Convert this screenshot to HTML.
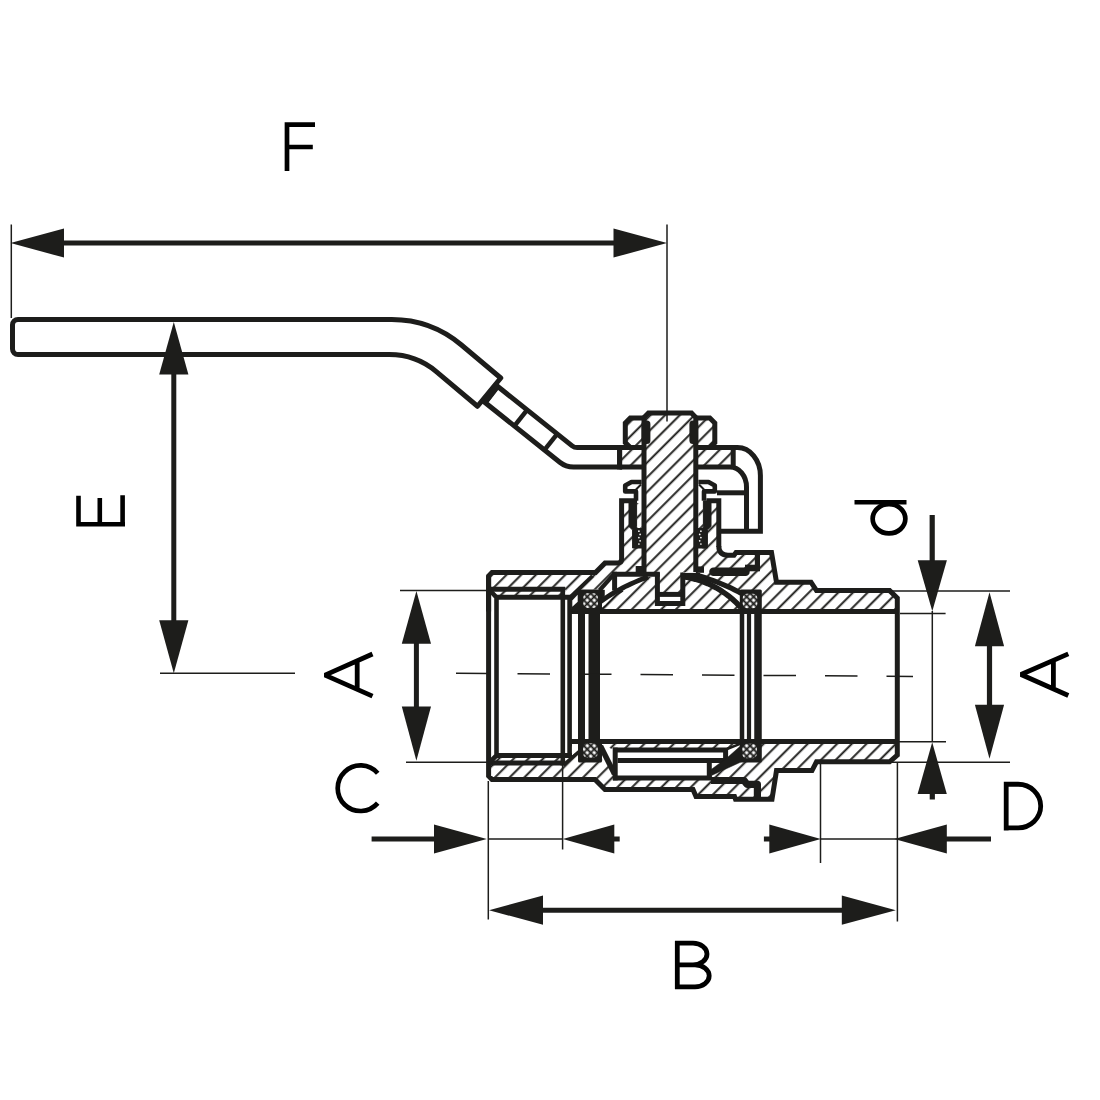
<!DOCTYPE html>
<html><head><meta charset="utf-8"><title>valve</title>
<style>html,body{margin:0;padding:0;background:#fff;}svg{display:block}</style></head>
<body>
<svg width="1100" height="1100" viewBox="0 0 1100 1100">
<defs>
<pattern id="hB" width="10.39" height="10.39" patternUnits="userSpaceOnUse" patternTransform="translate(494.4 587) rotate(-45) translate(0 -5)"><line x1="0" y1="5" x2="10.39" y2="5" stroke="#1d1d1b" stroke-width="1.95"/></pattern>
<pattern id="hC" width="10.39" height="10.39" patternUnits="userSpaceOnUse" patternTransform="translate(763.2 608.9) rotate(-45) translate(0 -5)"><line x1="0" y1="5" x2="10.39" y2="5" stroke="#1d1d1b" stroke-width="1.95"/></pattern>
<pattern id="hS" width="10.39" height="10.39" patternUnits="userSpaceOnUse" patternTransform="translate(647 448) rotate(-45) translate(0 -5)"><line x1="0" y1="5" x2="10.39" y2="5" stroke="#1d1d1b" stroke-width="1.95"/></pattern>
<pattern id="hL" width="10.39" height="10.39" patternUnits="userSpaceOnUse" patternTransform="translate(603.2 608.7) rotate(-45) translate(0 -5)"><line x1="0" y1="5" x2="10.39" y2="5" stroke="#1d1d1b" stroke-width="1.95"/></pattern>
<pattern id="x" width="4.9" height="4.9" patternUnits="userSpaceOnUse" patternTransform="rotate(45 590.6 600.6)">
<rect width="4.9" height="4.9" fill="#fff"/>
<path d="M0 2.45H4.9M2.45 0V4.9" stroke="#1d1d1b" stroke-width="1.8"/>
</pattern>
</defs>
<rect width="1100" height="1100" fill="#fff"/>
<path d="M500.75 378.0 L461.14 344.77 A108 108 0 0 0 391.72 319.5 H18 A5.5 5.5 0 0 0 12.5 325.0 V349.1 A5.5 5.5 0 0 0 18 354.6 H389.38 A73 73 0 0 1 436.30 371.68 L477.5 406.25 Z" fill="#fff"/>
<path d="M497.5 386.25 L572.16 445.85 A8 8 0 0 0 577.15 447.6 H619.6 V467.0 H573.50 A22 22 0 0 1 559.78 462.19 L485.0 402.5 Z" fill="#fff"/>
<path d="M488.60 576.00 L492.00 572.50 L595.50 572.50 L605.00 563.00 L621.60 563.00 L621.60 500.80 L629.50 500.80 L629.50 526.50 L633.00 531.00 L633.00 548.00 L644.00 548.00 L644.00 575.00 L615.20 575.00 L601.00 589.50 L581.50 589.50 L581.50 611.60 L569.60 611.60 L569.60 596.00 L565.00 589.30 L488.60 589.30 Z" fill="#fff"/>
<path d="M488.60 576.00 L492.00 572.50 L595.50 572.50 L605.00 563.00 L621.60 563.00 L621.60 500.80 L629.50 500.80 L629.50 526.50 L633.00 531.00 L633.00 548.00 L644.00 548.00 L644.00 575.00 L615.20 575.00 L601.00 589.50 L581.50 589.50 L581.50 611.60 L569.60 611.60 L569.60 596.00 L565.00 589.30 L488.60 589.30 Z" fill="url(#hB)"/>
<path d="M488.60 589.30 L562.80 589.30 L562.80 597.30 L496.50 597.30 Z" fill="#fff"/>
<path d="M488.60 589.30 L562.80 589.30 L562.80 597.30 L496.50 597.30 Z" fill="url(#hB)"/>
<path d="M695.80 548.00 L707.00 548.00 L707.00 531.00 L710.50 526.50 L710.50 500.80 L718.80 500.80 L718.80 548.00 L720.00 552.50 L726.00 555.20 L734.00 555.20 L736.00 552.50 L771.50 552.50 L776.50 582.20 L811.00 582.20 L816.50 590.60 L889.60 590.60 L897.30 598.00 L897.30 611.60 L742.00 611.60 L741.00 593.20 L737.81 591.49 L734.56 589.82 L731.23 588.20 L727.82 586.62 L724.35 585.09 L720.80 583.60 L717.18 582.16 L713.49 580.76 L709.73 579.40 L705.89 578.09 L701.98 576.82 L698.00 575.60 L695.80 575.00 Z" fill="#fff"/>
<path d="M695.80 548.00 L707.00 548.00 L707.00 531.00 L710.50 526.50 L710.50 500.80 L718.80 500.80 L718.80 548.00 L720.00 552.50 L726.00 555.20 L734.00 555.20 L736.00 552.50 L771.50 552.50 L776.50 582.20 L811.00 582.20 L816.50 590.60 L889.60 590.60 L897.30 598.00 L897.30 611.60 L742.00 611.60 L741.00 593.20 L737.81 591.49 L734.56 589.82 L731.23 588.20 L727.82 586.62 L724.35 585.09 L720.80 583.60 L717.18 582.16 L713.49 580.76 L709.73 579.40 L705.89 578.09 L701.98 576.82 L698.00 575.60 L695.80 575.00 Z" fill="url(#hC)"/>
<path d="M488.60 776.00 L492.00 779.40 L595.00 779.40 L605.00 789.50 L693.00 789.50 L696.00 796.50 L734.50 796.50 L735.50 799.30 L772.00 799.30 L776.50 770.60 L812.00 770.60 L816.50 761.80 L889.60 761.80 L897.30 755.00 L897.30 741.40 L760.00 741.40 L760.00 760.00 L741.00 757.00 L711.00 778.00 L615.20 778.00 L615.20 774.00 L601.00 758.00 L581.50 760.00 L581.50 741.40 L569.60 741.40 L569.60 757.00 L565.00 762.60 L488.60 762.60 Z" fill="#fff"/>
<path d="M488.60 776.00 L492.00 779.40 L595.00 779.40 L605.00 789.50 L693.00 789.50 L696.00 796.50 L734.50 796.50 L735.50 799.30 L772.00 799.30 L776.50 770.60 L812.00 770.60 L816.50 761.80 L889.60 761.80 L897.30 755.00 L897.30 741.40 L760.00 741.40 L760.00 760.00 L741.00 757.00 L711.00 778.00 L615.20 778.00 L615.20 774.00 L601.00 758.00 L581.50 760.00 L581.50 741.40 L569.60 741.40 L569.60 757.00 L565.00 762.60 L488.60 762.60 Z" fill="url(#hB)"/>
<path d="M488.60 763.00 L562.80 763.00 L562.80 755.50 L496.50 755.50 Z" fill="#fff"/>
<path d="M488.60 763.00 L562.80 763.00 L562.80 755.50 L496.50 755.50 Z" fill="url(#hB)"/>
<path d="M600.00 611.60 L600.00 602.00 L603.54 599.46 L607.17 597.00 L610.88 594.62 L614.67 592.33 L618.54 590.12 L622.50 588.00 L626.54 585.96 L630.67 584.00 L634.88 582.12 L639.17 580.33 L643.54 578.62 L648.00 577.00 L657.40 577.00 L657.40 603.50 L682.80 603.50 L682.80 577.17 L687.61 577.95 L692.42 578.98 L697.22 580.28 L702.03 581.86 L706.84 583.73 L711.65 585.92 L716.46 588.43 L721.27 591.32 L726.08 594.61 L730.88 598.37 L735.69 602.67 L740.50 607.62 L740.50 611.60 Z" fill="#fff"/>
<path d="M600.00 611.60 L600.00 602.00 L603.54 599.46 L607.17 597.00 L610.88 594.62 L614.67 592.33 L618.54 590.12 L622.50 588.00 L626.54 585.96 L630.67 584.00 L634.88 582.12 L639.17 580.33 L643.54 578.62 L648.00 577.00 L657.40 577.00 L657.40 603.50 L682.80 603.50 L682.80 577.17 L687.61 577.95 L692.42 578.98 L697.22 580.28 L702.03 581.86 L706.84 583.73 L711.65 585.92 L716.46 588.43 L721.27 591.32 L726.08 594.61 L730.88 598.37 L735.69 602.67 L740.50 607.62 L740.50 611.60 Z" fill="url(#hL)"/>
<path d="M600.00 741.40 L740.00 741.40 L728.00 750.00 L613.00 750.00 Z" fill="#fff"/>
<path d="M600.00 741.40 L740.00 741.40 L728.00 750.00 L613.00 750.00 Z" fill="url(#hL)"/>
<path d="M644.00 417.50 L648.50 413.00 L691.50 413.00 L695.80 417.50 L695.80 572.00 L682.80 572.00 L682.80 594.40 L657.40 594.40 L657.40 572.00 L644.00 572.00 Z" fill="#fff"/>
<path d="M644.00 417.50 L648.50 413.00 L691.50 413.00 L695.80 417.50 L695.80 572.00 L682.80 572.00 L682.80 594.40 L657.40 594.40 L657.40 572.00 L644.00 572.00 Z" fill="url(#hS)"/>
<path d="M615.20 575.00 L618.54 590.12 L622.50 588.00 L626.54 585.96 L630.67 584.00 L634.88 582.12 L639.17 580.33 L643.54 578.62 L648.00 577.00 L657.40 577.00 L657.40 575.00 Z" fill="#fff"/>
<path d="M604.50 590.50 L611.80 582.10 L612.20 590.10 L604.50 595.20 Z" fill="#fff"/>
<path d="M659.80 596.80 L680.40 596.80 L680.40 601.20 L659.80 601.20 Z" fill="#fff"/>
<path d="M617.60 752.40 L723.40 752.40 L723.40 758.10 L617.60 758.10 Z" fill="#fff"/>
<path d="M617.60 762.90 L707.00 762.90 L707.00 775.60 L617.60 775.60 Z" fill="#fff"/>
<path d="M711.60 762.90 L727.00 762.90 L711.60 774.00 Z" fill="#fff"/>
<path d="M604.00 760.00 L613.00 760.00 L613.00 771.00 Z" fill="#fff"/>
<path d="M619.60 447.60 L644.00 447.60 L644.00 467.00 L619.60 467.00 Z" fill="#fff"/>
<path d="M619.60 447.60 L644.00 447.60 L644.00 467.00 L619.60 467.00 Z" fill="url(#hB)"/>
<path d="M695.80 447.60 L733.20 447.60 L733.20 467.00 L695.80 467.00 Z" fill="#fff"/>
<path d="M695.80 447.60 L733.20 447.60 L733.20 467.00 L695.80 467.00 Z" fill="url(#hB)"/>
<path d="M644.00 418.00 L630.30 418.00 L625.30 423.00 L625.30 442.60 L630.30 447.60 L644.00 447.60 Z" fill="#fff"/>
<path d="M644.00 418.00 L630.30 418.00 L625.30 423.00 L625.30 442.60 L630.30 447.60 L644.00 447.60 Z" fill="url(#hB)"/>
<path d="M695.80 418.00 L709.80 418.00 L714.80 423.00 L714.80 442.60 L709.80 447.60 L695.80 447.60 Z" fill="#fff"/>
<path d="M695.80 418.00 L709.80 418.00 L714.80 423.00 L714.80 442.60 L709.80 447.60 L695.80 447.60 Z" fill="url(#hB)"/>
<path d="M637.00 503.00 L641.60 503.00 L641.60 528.00 L637.00 528.00 Z" fill="#fff"/>
<path d="M637.00 503.00 L641.60 503.00 L641.60 528.00 L637.00 528.00 Z" fill="url(#hB)"/>
<path d="M698.40 503.00 L703.00 503.00 L703.00 528.00 L698.40 528.00 Z" fill="#fff"/>
<path d="M698.40 503.00 L703.00 503.00 L703.00 528.00 L698.40 528.00 Z" fill="url(#hB)"/>
<line x1="11.30" y1="224.50" x2="11.30" y2="318.00" stroke="#1d1d1b" stroke-width="1.5" stroke-linecap="butt"/>
<line x1="667.00" y1="224.50" x2="667.00" y2="421.50" stroke="#1d1d1b" stroke-width="1.5" stroke-linecap="butt"/>
<line x1="60.00" y1="243.00" x2="620.00" y2="243.00" stroke="#1d1d1b" stroke-width="5" stroke-linecap="butt"/>
<path d="M10.50 243.00 L64.00 228.40 L64.00 257.60 Z" fill="#1d1d1b"/>
<path d="M667.00 243.00 L613.50 257.60 L613.50 228.40 Z" fill="#1d1d1b"/>
<line x1="173.80" y1="370.00" x2="173.80" y2="625.00" stroke="#1d1d1b" stroke-width="5" stroke-linecap="butt"/>
<path d="M173.80 322.00 L188.40 374.50 L159.20 374.50 Z" fill="#1d1d1b"/>
<path d="M173.80 673.30 L159.20 620.30 L188.40 620.30 Z" fill="#1d1d1b"/>
<line x1="160.00" y1="673.30" x2="295.00" y2="673.30" stroke="#1d1d1b" stroke-width="1.5" stroke-linecap="butt"/>
<line x1="400.00" y1="590.50" x2="488.00" y2="590.50" stroke="#1d1d1b" stroke-width="1.5" stroke-linecap="butt"/>
<line x1="406.00" y1="762.20" x2="488.00" y2="762.20" stroke="#1d1d1b" stroke-width="1.5" stroke-linecap="butt"/>
<line x1="416.40" y1="640.00" x2="416.40" y2="710.00" stroke="#1d1d1b" stroke-width="5" stroke-linecap="butt"/>
<path d="M416.40 591.00 L431.00 643.80 L401.80 643.80 Z" fill="#1d1d1b"/>
<path d="M416.40 760.80 L401.80 706.50 L431.00 706.50 Z" fill="#1d1d1b"/>
<line x1="488.30" y1="781.00" x2="488.30" y2="919.50" stroke="#1d1d1b" stroke-width="1.5" stroke-linecap="butt"/>
<line x1="562.60" y1="764.00" x2="562.60" y2="849.50" stroke="#1d1d1b" stroke-width="1.5" stroke-linecap="butt"/>
<line x1="488.00" y1="839.00" x2="562.00" y2="839.00" stroke="#1d1d1b" stroke-width="1.5" stroke-linecap="butt"/>
<line x1="371.60" y1="839.00" x2="436.00" y2="839.00" stroke="#1d1d1b" stroke-width="5" stroke-linecap="butt"/>
<path d="M486.80 839.00 L434.00 853.60 L434.00 824.40 Z" fill="#1d1d1b"/>
<path d="M562.80 839.00 L614.30 824.40 L614.30 853.60 Z" fill="#1d1d1b"/>
<line x1="612.00" y1="839.00" x2="619.70" y2="839.00" stroke="#1d1d1b" stroke-width="5" stroke-linecap="butt"/>
<line x1="540.00" y1="910.20" x2="845.00" y2="910.20" stroke="#1d1d1b" stroke-width="5" stroke-linecap="butt"/>
<path d="M489.00 910.20 L543.00 895.60 L543.00 924.80 Z" fill="#1d1d1b"/>
<path d="M895.80 910.20 L841.80 924.80 L841.80 895.60 Z" fill="#1d1d1b"/>
<line x1="820.50" y1="764.00" x2="820.50" y2="863.00" stroke="#1d1d1b" stroke-width="1.5" stroke-linecap="butt"/>
<line x1="897.40" y1="762.00" x2="897.40" y2="921.50" stroke="#1d1d1b" stroke-width="1.5" stroke-linecap="butt"/>
<line x1="820.00" y1="839.00" x2="897.00" y2="839.00" stroke="#1d1d1b" stroke-width="1.5" stroke-linecap="butt"/>
<path d="M820.80 839.00 L769.30 853.60 L769.30 824.40 Z" fill="#1d1d1b"/>
<line x1="763.90" y1="839.00" x2="771.00" y2="839.00" stroke="#1d1d1b" stroke-width="5" stroke-linecap="butt"/>
<path d="M894.30 839.00 L946.80 824.40 L946.80 853.60 Z" fill="#1d1d1b"/>
<line x1="944.00" y1="839.00" x2="991.00" y2="839.00" stroke="#1d1d1b" stroke-width="5" stroke-linecap="butt"/>
<line x1="932.20" y1="515.00" x2="932.20" y2="562.00" stroke="#1d1d1b" stroke-width="5.2" stroke-linecap="butt"/>
<path d="M932.30 611.30 L917.70 560.30 L946.90 560.30 Z" fill="#1d1d1b"/>
<line x1="932.30" y1="611.00" x2="932.30" y2="742.00" stroke="#1d1d1b" stroke-width="1.5" stroke-linecap="butt"/>
<path d="M932.20 742.30 L946.80 794.00 L917.60 794.00 Z" fill="#1d1d1b"/>
<line x1="932.30" y1="792.00" x2="932.30" y2="799.50" stroke="#1d1d1b" stroke-width="5.2" stroke-linecap="butt"/>
<line x1="900.00" y1="613.50" x2="945.60" y2="613.50" stroke="#1d1d1b" stroke-width="1.5" stroke-linecap="butt"/>
<line x1="898.00" y1="741.70" x2="946.00" y2="741.70" stroke="#1d1d1b" stroke-width="1.5" stroke-linecap="butt"/>
<line x1="892.00" y1="591.00" x2="1010.00" y2="591.00" stroke="#1d1d1b" stroke-width="1.5" stroke-linecap="butt"/>
<line x1="890.00" y1="762.20" x2="1010.00" y2="762.20" stroke="#1d1d1b" stroke-width="1.5" stroke-linecap="butt"/>
<line x1="989.50" y1="640.00" x2="989.50" y2="710.00" stroke="#1d1d1b" stroke-width="5.2" stroke-linecap="butt"/>
<path d="M989.50 592.20 L1004.10 646.20 L974.90 646.20 Z" fill="#1d1d1b"/>
<path d="M989.50 758.80 L974.90 704.80 L1004.10 704.80 Z" fill="#1d1d1b"/>
<path d="M287 171 V122.3 M287 124.7 H315 M287 147 H312.8" fill="none" stroke="#000" stroke-width="4.7" stroke-linejoin="miter" stroke-linecap="butt" />
<path d="M78.5 495.7 V524.3 M99.8 497.9 V524.3 M122.6 495.2 V524.3 M76.2 524.3 H125" fill="none" stroke="#000" stroke-width="4.6" stroke-linejoin="miter" stroke-linecap="butt" />
<path d="M372.5 654 L325 675.1 L372.5 696.1 M357.2 661.5 V689" fill="none" stroke="#000" stroke-width="4.8" stroke-linejoin="bevel" stroke-linecap="butt" />
<path d="M1068.3 653.85 L1021 674.5 L1068.3 695.45 M1053.4 660.5 V688.5" fill="none" stroke="#000" stroke-width="4.8" stroke-linejoin="bevel" stroke-linecap="butt" />
<path d="M377.71 773.24 A22.8 22.8 0 1 0 377.71 803.16" fill="none" stroke="#000" stroke-width="4.7" stroke-linejoin="miter" stroke-linecap="butt" />
<path d="M677.3 940.8 V989.2 M677.3 943.1 H693 A14 10.85 0 0 1 693 964.8 H677.3 M693 964.8 H695 A14.2 11.05 0 0 1 695 986.9 H677.3" fill="none" stroke="#000" stroke-width="4.8" stroke-linejoin="miter" stroke-linecap="butt" />
<path d="M1006.2 781.8 V830.4 M1006.2 784.25 H1018.1 A22.6 21.85 0 0 1 1018.1 827.95 H1006.2" fill="none" stroke="#000" stroke-width="4.8" stroke-linejoin="miter" stroke-linecap="butt" />
<path d="M854.5 502.3 H906.5" fill="none" stroke="#000" stroke-width="4.6" stroke-linejoin="miter" stroke-linecap="butt" />
<ellipse cx="889" cy="518.8" rx="16.35" ry="14.6" fill="none" stroke="#000" stroke-width="4.7"/>
<path d="M500.75 378.0 L461.14 344.77 A108 108 0 0 0 391.72 319.5 H18 A5.5 5.5 0 0 0 12.5 325.0 V349.1 A5.5 5.5 0 0 0 18 354.6 H389.38 A73 73 0 0 1 436.30 371.68 L477.5 406.25 Z" fill="none" stroke="#1d1d1b" stroke-width="5.0" stroke-linejoin="round" stroke-linecap="butt" />
<path d="M497.5 386.25 L572.16 445.85 A8 8 0 0 0 577.15 447.6 H619.6 V467.0 H573.50 A22 22 0 0 1 559.78 462.19 L485.0 402.5 Z" fill="none" stroke="#1d1d1b" stroke-width="5.0" stroke-linejoin="miter" stroke-linecap="butt" />
<line x1="497.50" y1="386.25" x2="485.00" y2="402.50" stroke="#1d1d1b" stroke-width="5.4" stroke-linecap="butt"/>
<line x1="526.96" y1="410.13" x2="514.24" y2="426.07" stroke="#1d1d1b" stroke-width="4.6" stroke-linecap="butt"/>
<line x1="557.26" y1="433.93" x2="544.54" y2="449.87" stroke="#1d1d1b" stroke-width="4.6" stroke-linecap="butt"/>
<path d="M488.6 611.6 V576 L492 572.5 H595.5 L605 563 H617.6 Q621.6 563 621.6 559 V500.8 H637" fill="none" stroke="#1d1d1b" stroke-width="5.0" stroke-linejoin="miter" stroke-linecap="butt" />
<path d="M706.40 500.80 L718.80 500.80 L718.80 547.00" fill="none" stroke="#1d1d1b" stroke-width="5.0" stroke-linejoin="miter" />
<path d="M718.8 546 Q718.8 555.2 728 555.2 H734 L736 552.5 H771.5 L776.5 582.2 H811 L816.5 590.6 H889.6 L897.3 598 V755 L889.6 761.8 H816.5 L812 770.6 H776.5 L772 799.3 H735.5 L734.5 796.5 H696 L693 789.5 H605 L595 779.4 H492 L488.6 776 V576" fill="none" stroke="#1d1d1b" stroke-width="5.0" stroke-linejoin="miter" stroke-linecap="butt" />
<line x1="569.60" y1="611.60" x2="897.30" y2="611.60" stroke="#1d1d1b" stroke-width="5.0" stroke-linecap="butt"/>
<line x1="569.60" y1="741.40" x2="897.30" y2="741.40" stroke="#1d1d1b" stroke-width="5.0" stroke-linecap="butt"/>
<line x1="488.60" y1="589.30" x2="565.20" y2="589.30" stroke="#1d1d1b" stroke-width="5.0" stroke-linecap="butt"/>
<line x1="488.60" y1="763.00" x2="565.20" y2="763.00" stroke="#1d1d1b" stroke-width="5.0" stroke-linecap="butt"/>
<line x1="562.80" y1="587.00" x2="562.80" y2="765.40" stroke="#1d1d1b" stroke-width="4.6" stroke-linecap="butt"/>
<line x1="496.50" y1="597.30" x2="572.00" y2="597.30" stroke="#1d1d1b" stroke-width="5.0" stroke-linecap="butt"/>
<line x1="496.50" y1="755.50" x2="572.00" y2="755.50" stroke="#1d1d1b" stroke-width="5.0" stroke-linecap="butt"/>
<line x1="569.60" y1="595.00" x2="569.60" y2="757.80" stroke="#1d1d1b" stroke-width="4.6" stroke-linecap="butt"/>
<path d="M490.00 590.50 L496.50 597.30 L496.50 755.50 L490.00 762.00" fill="none" stroke="#1d1d1b" stroke-width="4.6" stroke-linejoin="miter" />
<line x1="570.50" y1="596.80" x2="592.50" y2="575.80" stroke="#1d1d1b" stroke-width="3.8" stroke-linecap="butt"/>
<path d="M571.50 597.50 L578.50 590.50 L578.50 611.60 L571.50 611.60 Z" fill="#1d1d1b" stroke="#1d1d1b" stroke-width="0.5" stroke-linejoin="miter" />
<line x1="563.50" y1="765.00" x2="579.20" y2="751.30" stroke="#1d1d1b" stroke-width="3.6" stroke-linecap="butt"/>
<line x1="581.50" y1="611.60" x2="581.50" y2="741.40" stroke="#1d1d1b" stroke-width="7" stroke-linecap="butt"/>
<line x1="594.25" y1="611.60" x2="594.25" y2="741.40" stroke="#1d1d1b" stroke-width="11.5" stroke-linecap="butt"/>
<line x1="742.00" y1="611.60" x2="742.00" y2="741.40" stroke="#1d1d1b" stroke-width="4.5" stroke-linecap="butt"/>
<line x1="749.00" y1="611.60" x2="749.00" y2="741.40" stroke="#1d1d1b" stroke-width="4.2" stroke-linecap="butt"/>
<line x1="758.00" y1="611.60" x2="758.00" y2="741.40" stroke="#1d1d1b" stroke-width="7.5" stroke-linecap="butt"/>
<rect x="578.00" y="589.50" width="24.00" height="24.50" fill="#1d1d1b" stroke="none" stroke-width="0" rx="1.5"/>
<rect x="739.80" y="589.50" width="22.00" height="24.50" fill="#1d1d1b" stroke="none" stroke-width="0" rx="1.5"/>
<rect x="578.00" y="739.00" width="24.00" height="23.50" fill="#1d1d1b" stroke="none" stroke-width="0" rx="1.5"/>
<rect x="739.80" y="739.00" width="22.00" height="23.50" fill="#1d1d1b" stroke="none" stroke-width="0" rx="1.5"/>
<line x1="614.60" y1="571.80" x2="614.60" y2="590.50" stroke="#1d1d1b" stroke-width="5.0" stroke-linecap="butt"/>
<line x1="612.20" y1="574.20" x2="659.80" y2="574.20" stroke="#1d1d1b" stroke-width="5.0" stroke-linecap="butt"/>
<line x1="614.60" y1="573.40" x2="599.50" y2="590.40" stroke="#1d1d1b" stroke-width="4.4" stroke-linecap="butt"/>
<path d="M601.00 590.00 L604.50 590.00 L604.50 596.00 L601.00 600.00 Z" fill="#1d1d1b" stroke="#1d1d1b" stroke-width="0.5" stroke-linejoin="miter" />
<path d="M600.00 602.00 L603.54 599.46 L607.17 597.00 L610.88 594.62 L614.67 592.33 L618.54 590.12 L622.50 588.00 L626.54 585.96 L630.67 584.00 L634.88 582.12 L639.17 580.33 L643.54 578.62 L648.00 577.00" fill="none" stroke="#1d1d1b" stroke-width="4.8" stroke-linejoin="miter" stroke-linecap="butt" />
<path d="M601 609.5 L606.4 605 L615.5 595.6 L623 590.8" fill="none" stroke="#1d1d1b" stroke-width="1.5" stroke-linejoin="miter" stroke-linecap="butt" />
<path d="M682.80 576.67 L686.96 577.33 L691.11 578.18 L695.27 579.22 L699.43 580.47 L703.59 581.93 L707.74 583.62 L711.90 585.54 L716.06 587.71 L720.21 590.16 L724.37 592.90 L728.53 595.97 L732.69 599.42 L736.84 603.29 L741.00 607.68" fill="none" stroke="#1d1d1b" stroke-width="5.5" stroke-linejoin="miter" stroke-linecap="butt" />
<path d="M698.00 575.60 L701.98 576.82 L705.89 578.09 L709.73 579.40 L713.49 580.76 L717.18 582.16 L720.80 583.60 L724.35 585.09 L727.82 586.62 L731.23 588.20 L734.56 589.82 L737.81 591.49 L741.00 593.20" fill="none" stroke="#1d1d1b" stroke-width="5.2" stroke-linejoin="miter" stroke-linecap="butt" />
<line x1="682.80" y1="575.40" x2="700.00" y2="575.40" stroke="#1d1d1b" stroke-width="5.0" stroke-linecap="butt"/>
<path d="M657.40 572.60 L657.40 603.50 L682.80 603.50 L682.80 572.60" fill="none" stroke="#1d1d1b" stroke-width="5.0" stroke-linejoin="miter" />
<line x1="657.40" y1="594.40" x2="682.80" y2="594.40" stroke="#1d1d1b" stroke-width="5.0" stroke-linecap="butt"/>
<path d="M613.00 750.00 L725.60 750.00 L725.60 760.50 L617.60 760.50" fill="none" stroke="#1d1d1b" stroke-width="5.0" stroke-linejoin="miter" />
<line x1="615.20" y1="747.60" x2="615.20" y2="780.40" stroke="#1d1d1b" stroke-width="5.0" stroke-linecap="butt"/>
<line x1="613.00" y1="778.00" x2="711.60" y2="778.00" stroke="#1d1d1b" stroke-width="5.0" stroke-linecap="butt"/>
<line x1="709.30" y1="760.50" x2="709.30" y2="778.00" stroke="#1d1d1b" stroke-width="5.0" stroke-linecap="butt"/>
<line x1="600.50" y1="746.00" x2="614.50" y2="774.00" stroke="#1d1d1b" stroke-width="5.5" stroke-linecap="butt"/>
<path d="M710.50 770.00 L727.70 757.30 L741.00 745.50 L741.00 762.00 L711.50 775.50 Z" fill="#1d1d1b" stroke="#1d1d1b" stroke-width="0.5" stroke-linejoin="miter" />
<line x1="727.00" y1="749.00" x2="740.00" y2="743.80" stroke="#1d1d1b" stroke-width="2.5" stroke-linecap="butt"/>
<path d="M711 780.5 H744 L747 784.3 H757.4 V797" fill="none" stroke="#1d1d1b" stroke-width="7.2" stroke-linejoin="round" stroke-linecap="butt" />
<path d="M713.5 571.8 H745.5" fill="none" stroke="#1d1d1b" stroke-width="8.5" stroke-linejoin="miter" stroke-linecap="round" />
<path d="M745 568 H760" fill="none" stroke="#1d1d1b" stroke-width="6.6" stroke-linejoin="miter" stroke-linecap="butt" />
<line x1="757.40" y1="552.50" x2="757.40" y2="571.00" stroke="#1d1d1b" stroke-width="5.2" stroke-linecap="butt"/>
<path d="M644.00 572.00 L644.00 417.50 L648.50 413.00 L691.50 413.00 L695.80 417.50 L695.80 572.00" fill="none" stroke="#1d1d1b" stroke-width="5.0" stroke-linejoin="miter" />
<rect x="635.70" y="566.00" width="8.00" height="7.00" fill="#1d1d1b" stroke="none" stroke-width="0" rx="0"/>
<rect x="696.00" y="566.40" width="8.00" height="6.40" fill="#1d1d1b" stroke="none" stroke-width="0" rx="0"/>
<rect x="641.60" y="420.50" width="8.80" height="23.50" fill="#1d1d1b" stroke="none" stroke-width="0" rx="3.5"/>
<rect x="689.40" y="420.50" width="8.80" height="23.50" fill="#1d1d1b" stroke="none" stroke-width="0" rx="3.5"/>
<path d="M644.00 418.00 L630.30 418.00 L625.30 423.00 L625.30 442.60 L630.30 447.60 L644.00 447.60" fill="none" stroke="#1d1d1b" stroke-width="5.0" stroke-linejoin="miter" />
<path d="M695.80 418.00 L709.80 418.00 L714.80 423.00 L714.80 442.60 L709.80 447.60 L695.80 447.60" fill="none" stroke="#1d1d1b" stroke-width="5.0" stroke-linejoin="miter" />
<path d="M619.6 447.6 H644 M695.8 447.6 H737.5 A23 28 0 0 1 760.4 475.6 V531.3 H721" fill="none" stroke="#1d1d1b" stroke-width="5.0" stroke-linejoin="miter" stroke-linecap="butt" />
<path d="M619.6 467 H644 M695.8 467 H730 A16.5 20 0 0 1 746.5 487 V531.3" fill="none" stroke="#1d1d1b" stroke-width="5.0" stroke-linejoin="miter" stroke-linecap="butt" />
<line x1="619.60" y1="445.20" x2="619.60" y2="469.40" stroke="#1d1d1b" stroke-width="5.0" stroke-linecap="butt"/>
<line x1="733.20" y1="447.60" x2="733.20" y2="467.00" stroke="#1d1d1b" stroke-width="5.0" stroke-linecap="butt"/>
<line x1="717.00" y1="492.80" x2="746.50" y2="492.80" stroke="#1d1d1b" stroke-width="5.0" stroke-linecap="butt"/>
<path d="M641.6 482 H631.5 L625.2 485.5 V491.4 H636 V500.8" fill="none" stroke="#1d1d1b" stroke-width="4.6" stroke-linejoin="round" stroke-linecap="butt" />
<path d="M698.4 482 H708.5 L714.8 485.5 V491.4 H704 V500.8" fill="none" stroke="#1d1d1b" stroke-width="4.6" stroke-linejoin="round" stroke-linecap="butt" />
<path d="M641 484.5 L636 489.5" fill="none" stroke="#1d1d1b" stroke-width="2" stroke-linejoin="miter" stroke-linecap="butt" />
<path d="M699 484.5 L704 489.5" fill="none" stroke="#1d1d1b" stroke-width="2" stroke-linejoin="miter" stroke-linecap="butt" />
<path d="M629 501 H636.6 V526.5 L637.6 530 V548 H632.6 V530 L629 526.5 Z" fill="#1d1d1b" stroke="#1d1d1b" stroke-width="1" stroke-linejoin="miter" stroke-linecap="butt" />
<path d="M711 501 H703.4 V526.5 L702.4 530 V548 H707.4 V530 L711 526.5 Z" fill="#1d1d1b" stroke="#1d1d1b" stroke-width="1" stroke-linejoin="miter" stroke-linecap="butt" />
<rect x="635.00" y="528.00" width="7.00" height="20.50" fill="#1d1d1b" stroke="none" stroke-width="0" rx="0"/>
<rect x="696.00" y="528.00" width="9.00" height="20.50" fill="#1d1d1b" stroke="none" stroke-width="0" rx="0"/>
<line x1="456.00" y1="673.30" x2="488.50" y2="673.53" stroke="#1d1d1b" stroke-width="1.5" stroke-linecap="butt"/>
<line x1="517.50" y1="673.72" x2="550.00" y2="673.94" stroke="#1d1d1b" stroke-width="1.5" stroke-linecap="butt"/>
<line x1="579.00" y1="674.14" x2="611.50" y2="674.36" stroke="#1d1d1b" stroke-width="1.5" stroke-linecap="butt"/>
<line x1="640.50" y1="674.56" x2="673.00" y2="674.78" stroke="#1d1d1b" stroke-width="1.5" stroke-linecap="butt"/>
<line x1="702.00" y1="674.98" x2="734.50" y2="675.20" stroke="#1d1d1b" stroke-width="1.5" stroke-linecap="butt"/>
<line x1="763.50" y1="675.40" x2="796.00" y2="675.62" stroke="#1d1d1b" stroke-width="1.5" stroke-linecap="butt"/>
<line x1="825.00" y1="675.81" x2="857.50" y2="676.03" stroke="#1d1d1b" stroke-width="1.5" stroke-linecap="butt"/>
<line x1="886.50" y1="676.23" x2="913.00" y2="676.41" stroke="#1d1d1b" stroke-width="1.5" stroke-linecap="butt"/>
<path d="M572.3 600.5 L577.7 594.8 L577.7 601.8 L572.3 606.8 Z" fill="#fff"/>
<path d="M572 743.9 L577.8 743.9 L577.8 750.2 L572 755.1 Z" fill="#fff"/>
<rect x="583.3" y="593.3" width="14.6" height="14.6" rx="4.5" fill="url(#x)"/>
<rect x="742.7" y="593.7" width="14.6" height="14.6" rx="4.5" fill="url(#x)"/>
<rect x="583.1" y="743.3" width="14.6" height="14.6" rx="4.5" fill="url(#x)"/>
<rect x="742.3" y="743.7" width="14.6" height="14.6" rx="4.5" fill="url(#x)"/>
<circle cx="638.9" cy="531.2" r="0.85" fill="#fff"/>
<circle cx="700.9" cy="531.2" r="0.85" fill="#fff"/>
<circle cx="640.1" cy="534.4" r="0.85" fill="#fff"/>
<circle cx="699.7" cy="534.4" r="0.85" fill="#fff"/>
<circle cx="638.9" cy="537.6" r="0.85" fill="#fff"/>
<circle cx="700.9" cy="537.6" r="0.85" fill="#fff"/>
<circle cx="640.1" cy="540.8" r="0.85" fill="#fff"/>
<circle cx="699.7" cy="540.8" r="0.85" fill="#fff"/>
<circle cx="638.9" cy="544" r="0.85" fill="#fff"/>
<circle cx="700.9" cy="544" r="0.85" fill="#fff"/>
</svg>
</body></html>
